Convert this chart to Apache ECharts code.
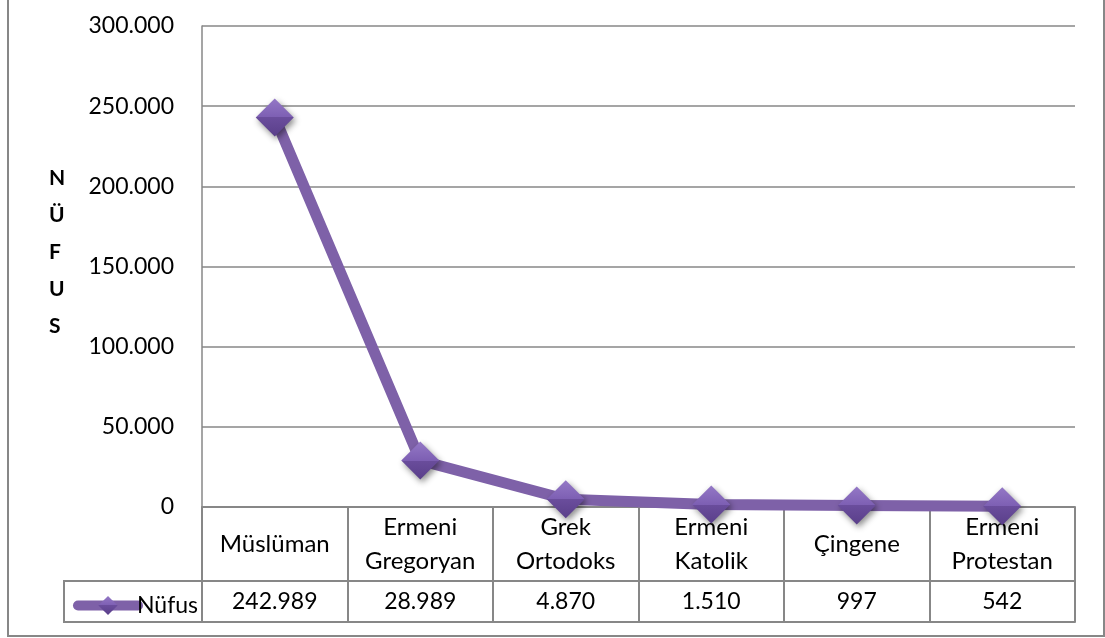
<!DOCTYPE html>
<html>
<head>
<meta charset="utf-8">
<script src="https://cdn.jsdelivr.net/npm/echarts@6/dist/echarts.min.js"></script>
<style>
html,body{margin:0;padding:0;background:#fff;}
#c{width:1105px;height:638px;}
</style>
</head>
<body>
<div id="c"></div>
<script>
// ---- data ----
var categories = ['Müslüman', 'Ermeni\nGregoryan', 'Grek\nOrtodoks', 'Ermeni\nKatolik', 'Çingene', 'Ermeni\nProtestan'];
var seriesName = 'Nüfus';
var values = [242989, 28989, 4870, 1510, 997, 542];
var valueLabels = ['242.989', '28.989', '4.870', '1.510', '997', '542'];
var yTickLabels = ['0', '50.000', '100.000', '150.000', '200.000', '250.000', '300.000'];
var yAxisTitle = 'N\nÜ\nF\nU\nS';

// ---- layout / style ----
var FONT = 'Lato';
var GRAY = '#878787';
var PURPLE = '#7e61a8';
var GRID_LEFT = 202, GRID_RIGHT = 30, GRID_TOP = 26, GRID_BOTTOM = 131;
var ROW1 = 74, ROW2 = 115;
var AXIS_Y = 638 - GRID_BOTTOM;
var CELL_LEFT = 64;

var chart = echarts.init(document.getElementById('c'), null, {renderer: 'canvas'});

var option = {
  animation: false,
  backgroundColor: '#fff',
  textStyle: {fontFamily: FONT},
  grid: {left: GRID_LEFT, right: GRID_RIGHT, top: GRID_TOP, bottom: GRID_BOTTOM, containLabel: false},
  legend: {
    data: [seriesName],
    left: 68,
    top: AXIS_Y + ROW1 + 8,
    itemWidth: 60,
    itemHeight: 24,
    itemGap: 0,
    selectedMode: false,
    lineStyle: {width: 10, cap: 'round'},
    textStyle: {fontFamily: FONT, fontSize: 23, color: '#000', padding: [0, 0, 0, -6]}
  },
  xAxis: [
    {
      type: 'category',
      data: categories,
      position: 'bottom',
      boundaryGap: true,
      axisLine: {show: true, lineStyle: {color: GRAY, width: 2}},
      axisTick: {show: true, interval: 0, length: ROW2, lineStyle: {color: GRAY, width: 2}},
      axisLabel: {
        interval: 0, margin: 37, verticalAlign: 'middle',
        fontFamily: FONT, fontSize: 24, lineHeight: 34, color: '#000'
      },
      splitLine: {show: false}
    },
    {
      type: 'category',
      data: categories,
      position: 'bottom',
      offset: ROW1,
      boundaryGap: true,
      axisLine: {show: true, lineStyle: {color: GRAY, width: 2}},
      axisTick: {show: false},
      axisLabel: {
        interval: 0, margin: 21, verticalAlign: 'middle',
        fontFamily: FONT, fontSize: 23, color: '#000',
        formatter: function (v, i) { return valueLabels[i]; }
      },
      splitLine: {show: false}
    },
    {
      type: 'category',
      data: categories,
      position: 'bottom',
      offset: ROW2,
      boundaryGap: true,
      axisLine: {show: true, lineStyle: {color: GRAY, width: 2}},
      axisTick: {show: false},
      axisLabel: {show: false},
      splitLine: {show: false}
    }
  ],
  yAxis: {
    type: 'value',
    min: 0, max: 300000, interval: 50000,
    axisLine: {show: true, lineStyle: {color: GRAY, width: 1.5}},
    axisTick: {show: false},
    axisLabel: {
      margin: 28, fontFamily: FONT, fontSize: 23, color: '#000',
      formatter: function (v) { return yTickLabels[Math.round(v / 50000)]; }
    },
    splitLine: {show: true, lineStyle: {color: GRAY, width: 1.5}}
  },
  series: [{
    name: seriesName,
    type: 'line',
    xAxisIndex: 0,
    data: values,
    clip: false,
    symbol: 'diamond',
    symbolSize: 38,
    z: 5,
    lineStyle: {color: PURPLE, width: 11, cap: 'round', join: 'round'},
    itemStyle: {
      color: new echarts.graphic.LinearGradient(0, 0, 0, 1, [
        {offset: 0, color: '#9478c6'},
        {offset: 0.5, color: '#7d5fb3'},
        {offset: 0.5, color: '#6a4d9c'},
        {offset: 1, color: '#5a3f8a'}
      ]),
      shadowBlur: 6, shadowColor: 'rgba(0,0,0,0.45)', shadowOffsetX: 2, shadowOffsetY: 3
    },
    emphasis: {disabled: true}
  }],
  graphic: [
    {
      type: 'rect', silent: true,
      shape: {x: 8, y: -2, width: 1096, height: 638},
      style: {fill: 'none', stroke: GRAY, lineWidth: 2}
    },
    {
      type: 'polyline', silent: true,
      shape: {points: [[GRID_LEFT, AXIS_Y + ROW1], [CELL_LEFT, AXIS_Y + ROW1], [CELL_LEFT, AXIS_Y + ROW2], [GRID_LEFT, AXIS_Y + ROW2]]},
      style: {fill: 'none', stroke: GRAY, lineWidth: 2}
    },
    {
      type: 'text', silent: true,
      left: 49, top: 160,
      style: {text: yAxisTitle, fontFamily: FONT, fontSize: 21, fontWeight: 'bold', lineHeight: 37, fill: '#000', align: 'center'}
    }
  ]
};
chart.setOption(option);
</script>
</body>
</html>
